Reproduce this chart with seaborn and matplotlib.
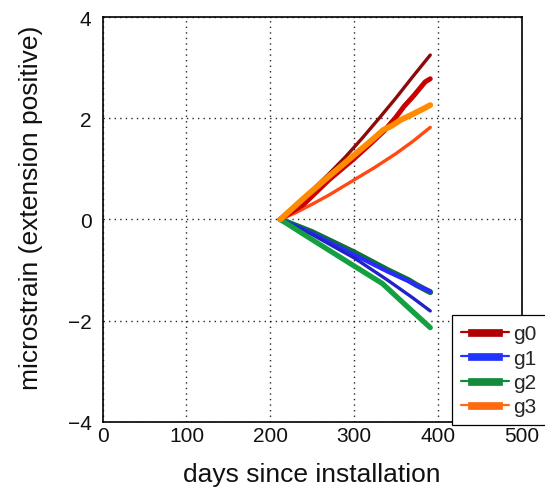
import numpy as np
import pandas as pd
import matplotlib
matplotlib.use("Agg")
import matplotlib.pyplot as plt
from matplotlib.lines import Line2D
from matplotlib.path import Path
import seaborn as sns

# Strain gauge records: days since installation vs. microstrain
g0_thin_days = [212, 230, 250, 270, 290, 310, 330, 350, 370, 391]
g0_thin_vals = [0.0, 0.27, 0.58, 0.90, 1.24, 1.61, 2.00, 2.40, 2.82, 3.25]

g0_thick_days = [212, 240, 270, 300, 320, 336, 350, 360, 371, 380, 385, 391]
g0_thick_vals = [0.0, 0.30, 0.78, 1.20, 1.50, 1.75, 2.02, 2.24, 2.44, 2.62, 2.72, 2.78]

g3_thick_days = [212, 240, 270, 300, 320, 335, 345, 356, 370, 382, 391]
g3_thick_vals = [0.0, 0.42, 0.85, 1.27, 1.55, 1.77, 1.85, 1.97, 2.08, 2.18, 2.26]

g3_thin_days = [212, 230, 250, 270, 300, 325, 350, 370, 391]
g3_thin_vals = [0.0, 0.13, 0.30, 0.48, 0.78, 1.03, 1.30, 1.54, 1.82]

g2_top_days = [212, 250, 300, 340, 365, 375, 391]
g2_top_vals = [0.0, -0.25, -0.65, -1.00, -1.20, -1.30, -1.44]

g1_thick_days = [212, 250, 300, 340, 365, 375, 391]
g1_thick_vals = [0.0, -0.28, -0.70, -1.03, -1.22, -1.31, -1.42]

g1_thin_days = [212, 250, 300, 340, 370, 391]
g1_thin_vals = [0.0, -0.30, -0.76, -1.20, -1.55, -1.81]

g2_low_days = [212, 250, 300, 334, 360, 391]
g2_low_vals = [0.0, -0.40, -0.92, -1.27, -1.67, -2.14]

groups = ["g0", "g1", "g2", "g3"]
group_colors = ["#b00000", "#2233ff", "#118a3c", "#ff6a10"]

x_ticks = [0, 100, 200, 300, 400, 500]
y_ticks = [-4, -2, 0, 2, 4]

series = [
    (g2_top_days, g2_top_vals, "#0c7038", 4.2),
    (g1_thick_days, g1_thick_vals, "#2a2aff", 3.0),
    (g1_thin_days, g1_thin_vals, "#2222c8", 2.4),
    (g2_low_days, g2_low_vals, "#12a040", 3.8),
    (g3_thin_days, g3_thin_vals, "#ff4a14", 2.4),
    (g0_thick_days, g0_thick_vals, "#c80000", 3.6),
    (g0_thin_days, g0_thin_vals, "#8b0a0a", 2.4),
    (g3_thick_days, g3_thick_vals, "#ff8c00", 4.2),
]

sns.set_style("white")
plt.rcParams["font.family"] = ["Liberation Sans", "DejaVu Sans"]

fig = plt.figure(figsize=(5.45, 4.89), dpi=100)
ax = fig.add_axes([0.1884, 0.1356, 0.7686, 0.8274])

for days, vals, color, lw in series:
    df = pd.DataFrame({"days": days, "strain": vals})
    sns.lineplot(data=df, x="days", y="strain", ax=ax, color=color,
                 linewidth=lw, estimator=None, sort=False,
                 solid_capstyle="round")

ax.set_xlim(0, 500)
ax.set_ylim(-4, 4)
ax.set_xticks(x_ticks)
ax.set_yticks(y_ticks)
ax.set_xticklabels([str(v) for v in x_ticks])
ax.set_yticklabels([str(v).replace("-", "\u2212") for v in y_ticks])
ax.tick_params(axis="both", length=0, labelsize=15, colors="#111111")
ax.tick_params(axis="x", pad=3)
ax.tick_params(axis="y", pad=8)
ax.grid(True, linestyle=(0, (1, 3)), color="black", linewidth=1.0, alpha=0.85)
for s in ax.spines.values():
    s.set_visible(True)
    s.set_color("black")
    s.set_linewidth(1.2)

ax.set_xlabel("days since installation", fontsize=19, labelpad=12, color="#111111")
ax.set_ylabel("microstrain (extension positive)", fontsize=19, color="#111111")
ax.yaxis.set_label_coords(-0.143, 0.53)

# Legend entries: thin line with a thick bar in the middle
bar = Path([(-1, -0.21), (1, -0.21), (1, 0.21), (-1, 0.21), (-1, -0.21)],
           [Path.MOVETO, Path.LINETO, Path.LINETO, Path.LINETO, Path.CLOSEPOLY])
handles = [Line2D([], [], color=c, linewidth=1.6, marker=bar, markersize=24,
                  markerfacecolor=c, markeredgecolor=c, markeredgewidth=0.5)
           for c in group_colors]
leg = fig.legend(handles, groups, loc="upper left",
                 bbox_to_anchor=(452 / 545, 1 - 316 / 489),
                 frameon=True, fancybox=False, fontsize=15, numpoints=1,
                 handlelength=2.3, handletextpad=0.2, labelspacing=0.25,
                 borderpad=0.45, borderaxespad=0.0)
leg.get_frame().set_edgecolor("black")
leg.get_frame().set_linewidth(0.9)
leg.get_frame().set_facecolor("white")
leg.get_frame().set_alpha(1)

fig.savefig("out.png", dpi=100)
